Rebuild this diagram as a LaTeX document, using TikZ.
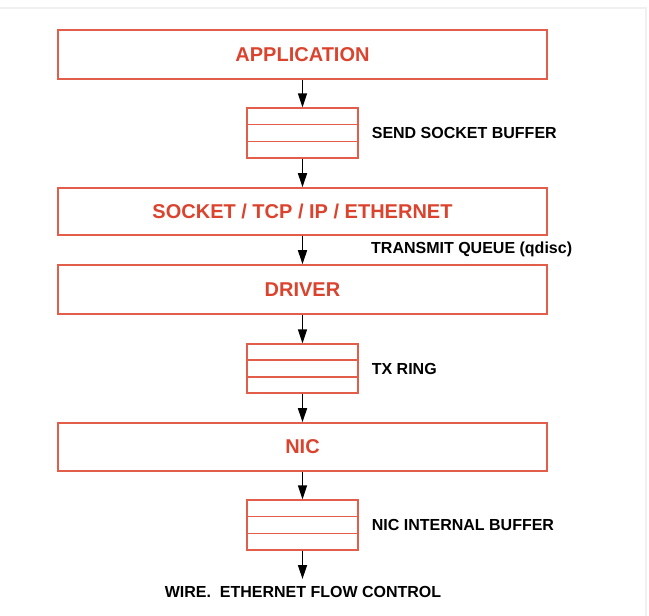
\documentclass[tikz,border=0pt]{standalone}
\usepackage{fontspec}
\setmainfont{Liberation Sans}
\usetikzlibrary{arrows.meta,positioning,calc}
\definecolor{layerred}{RGB}{218,68,46}
\definecolor{boxred}{RGB}{226,94,74}

\begin{document}
\begin{tikzpicture}[x=1pt, y=-1pt,
    layer/.style={draw=boxred, line width=1.6pt, minimum width=489pt, minimum height=49pt,
        inner sep=0pt, text=layerred, font=\fontsize{20}{24}\selectfont\bfseries},
    buffer/.style={draw=boxred, line width=1.3pt, minimum width=111pt, minimum height=50pt, inner sep=0pt},
    note/.style={font=\fontsize{16}{19}\selectfont\bfseries, inner sep=0pt, anchor=west},
    flow/.style={-{Triangle[length=14pt,width=9pt]}, line width=1.5pt}]
    \useasboundingbox (0,0) rectangle (649,616);
    \draw[black!6, line width=1.5pt] (0,8) -- (646,8) -- (646,616);

    % layers
    \node[layer] (app) at (302.5,54.5) {APPLICATION};
    \node[layer, minimum height=47pt] (sock) at (302.5,211.5) {SOCKET / TCP / IP / ETHERNET};
    \node[layer] (drv) at (302.5,289.5) {DRIVER};
    \node[layer, minimum height=48pt] (nic) at (302.5,447) {NIC};

    % buffers
    \node[buffer] (sendbuf) at (302.5,133) {};
    \node[buffer, minimum height=49pt] (txring) at (302.5,368.5) {};
    \node[buffer] (nicbuf) at (302.5,525) {};
    \foreach \b in {sendbuf,txring,nicbuf} {
        \draw[boxred, line width=1.3pt] ($(\b.north west)!1/3!(\b.south west)$) -- ($(\b.north east)!1/3!(\b.south east)$);
        \draw[boxred, line width=1.3pt] ($(\b.north west)!2/3!(\b.south west)$) -- ($(\b.north east)!2/3!(\b.south east)$);
    }

    % labels
    \node[note, right=13pt of sendbuf] (sendlbl) {SEND SOCKET BUFFER};
    \node[note] (qlbl) at (371,249) {TRANSMIT QUEUE (qdisc)};
    \node[note, right=13pt of txring] (txlbl) {TX RING};
    \node[note, right=13pt of nicbuf] (niclbl) {NIC INTERNAL BUFFER};
    \node[note, anchor=center] (wire) at (303,592) {WIRE.\ \ ETHERNET FLOW CONTROL};
    \coordinate (wireend) at (302.5,579);

    % arrows
    \draw[flow] (app) -- (sendbuf);
    \draw[flow] (sendbuf) -- (sock);
    \draw[flow] (sock) -- (drv);
    \draw[flow] (drv) -- (txring);
    \draw[flow] (txring) -- (nic);
    \draw[flow] (nic) -- (nicbuf);
    \draw[flow] (nicbuf) -- (wireend);
\end{tikzpicture}
\end{document}
